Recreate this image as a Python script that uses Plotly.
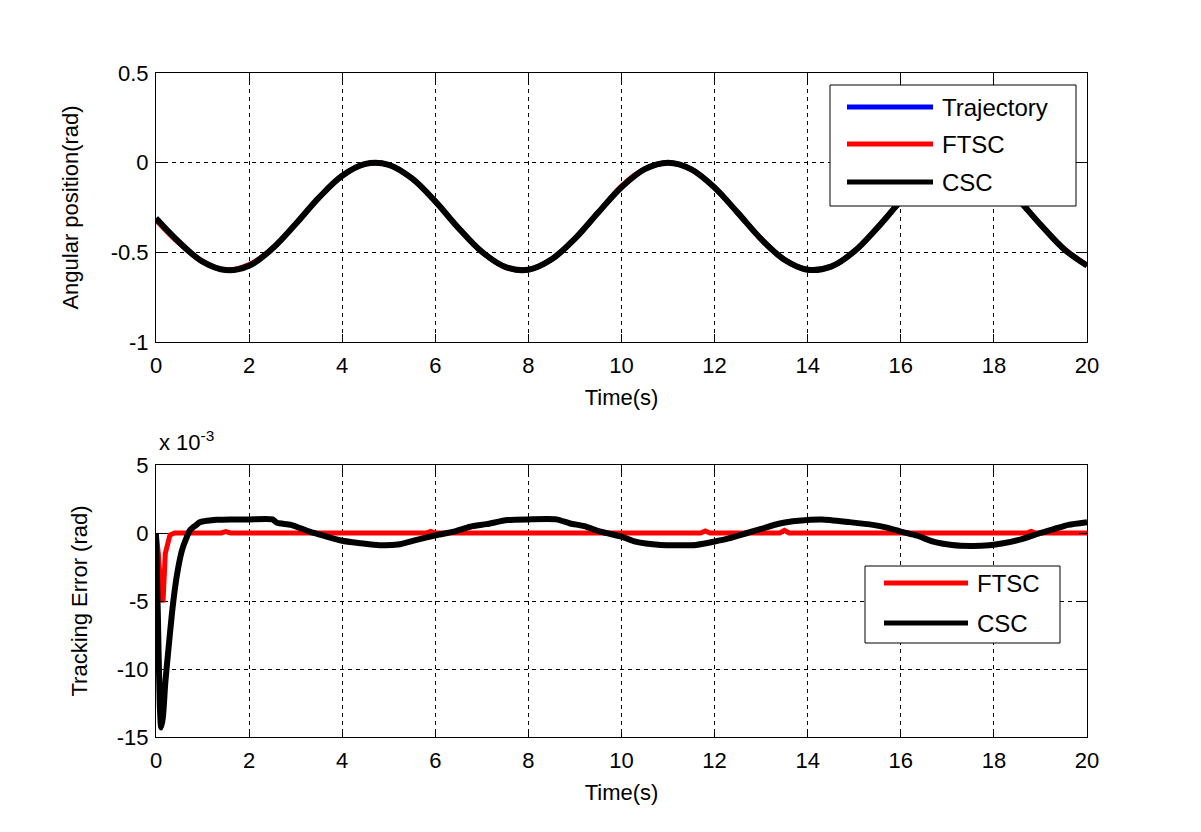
import plotly.graph_objects as go

# ---------------- data ----------------
# top panel: angular position (rad), sampled every 0.5 s
t_pos = [i * 0.5 for i in range(41)]
trajectory = [-0.31, -0.444, -0.552, -0.599, -0.573, -0.479, -0.342, -0.195, -0.073, -0.007,
              -0.012, -0.088, -0.216, -0.365, -0.497, -0.581, -0.597, -0.539, -0.424, -0.278,
              -0.137, -0.036, 0.000, -0.037, -0.139, -0.280, -0.426, -0.541, -0.597, -0.580,
              -0.495, -0.362, -0.214, -0.086, -0.012, -0.007, -0.075, -0.199, -0.345, -0.481,
              -0.574]
ftsc_pos = [-0.32, -0.450, -0.552, -0.599, -0.568, -0.479, -0.342, -0.195, -0.073, -0.007,
            -0.012, -0.088, -0.216, -0.365, -0.497, -0.581, -0.595, -0.539, -0.424, -0.278,
            -0.130, -0.036, 0.000, -0.037, -0.139, -0.280, -0.426, -0.541, -0.597, -0.580,
            -0.495, -0.362, -0.214, -0.086, -0.012, -0.007, -0.075, -0.199, -0.345, -0.476,
            -0.574]
csc_pos = [-0.31, -0.444, -0.552, -0.599, -0.575, -0.479, -0.342, -0.195, -0.073, -0.007,
           -0.012, -0.088, -0.216, -0.365, -0.497, -0.581, -0.597, -0.539, -0.424, -0.278,
           -0.137, -0.036, 0.000, -0.037, -0.139, -0.280, -0.426, -0.541, -0.597, -0.580,
           -0.495, -0.362, -0.214, -0.086, -0.012, -0.007, -0.075, -0.199, -0.345, -0.481,
           -0.574]

# bottom panel: tracking error (x 10^-3 rad)
t_csc = [0, 0.04, 0.08, 0.11, 0.15, 0.2, 0.26, 0.34, 0.41, 0.48, 0.56, 0.65, 0.73, 0.85, 0.95,
         1.1, 1.3, 1.6, 2.0, 2.5, 2.6, 2.9, 3.3, 3.6, 4.0, 4.4, 4.8, 5.2, 5.6, 6.04, 6.4, 6.75,
         7.1, 7.55, 8.0, 8.6, 8.9, 9.2, 9.55, 10.0, 10.3, 10.84, 11.2, 11.6, 11.98, 12.3, 12.7,
         13.0, 13.4, 13.8, 14.3, 14.9, 15.4, 15.7, 16.0, 16.35, 16.7, 17.1, 17.5, 17.9, 18.2,
         18.6, 19.0, 19.3, 19.6, 20.0]
err_csc = [0, -6, -12.5, -14.3, -13.5, -11, -8.8, -6.0, -4.0, -2.5, -1.25, -0.4, 0.2, 0.55, 0.8,
           0.9, 0.97, 1.0, 1.0, 1.0, 0.75, 0.6, 0.1, -0.2, -0.57, -0.75, -0.9, -0.85, -0.5, -0.15,
           0.1, 0.46, 0.65, 0.95, 1.0, 1.0, 0.7, 0.5, 0.1, -0.27, -0.64, -0.88, -0.9, -0.88, -0.64,
           -0.4, 0.0, 0.3, 0.7, 0.9, 1.0, 0.8, 0.6, 0.4, 0.1, -0.2, -0.64, -0.88, -0.95, -0.9,
           -0.75, -0.45, 0.0, 0.3, 0.6, 0.8]
t_ftsc = [0, 0.05, 0.1, 0.15, 0.2, 0.3, 0.4, 1.4, 1.5, 1.6, 5.8, 5.9, 6.0, 11.7, 11.8, 11.9,
          13.4, 13.5, 13.6, 18.7, 18.8, 18.9, 20]
err_ftsc = [0, -1.5, -4.0, -5.1, -1.5, -0.15, 0, 0, 0.1, 0, 0, 0.12, 0, 0, 0.15, 0,
            0, 0.2, 0, 0, 0.12, 0, 0]

x_ticks = [0, 2, 4, 6, 8, 10, 12, 14, 16, 18, 20]
x_ticktext = ["0", "2", "4", "6", "8", "10", "12", "14", "16", "18", "20"]
y1_ticks = [-1, -0.5, 0, 0.5]
y1_ticktext = ["-1", "-0.5", "0", "0.5"]
y2_ticks = [-15, -10, -5, 0, 5]
y2_ticktext = ["-15", "-10", "-5", "0", "5"]

# ---------------- figure ----------------
OFF = 8                      # page body margin
W, H = 1201 - OFF, 832 - OFF
FONT = "Arial, Liberation Sans, Helvetica, sans-serif"
FS = 22

def px(x):
    return (x - OFF) / W

def py(y):
    return 1 - (y - OFF) / H

fig = go.Figure()
fig.add_trace(go.Scatter(x=t_pos, y=trajectory, name="Trajectory", mode="lines",
                         line=dict(color="#0000ff", width=5, shape="spline"),
                         xaxis="x", yaxis="y", showlegend=False))
fig.add_trace(go.Scatter(x=t_pos, y=ftsc_pos, name="FTSC", mode="lines",
                         line=dict(color="#ff0000", width=5, shape="spline"),
                         xaxis="x", yaxis="y", showlegend=False))
fig.add_trace(go.Scatter(x=t_pos, y=csc_pos, name="CSC", mode="lines",
                         line=dict(color="#000000", width=6, shape="spline"),
                         xaxis="x", yaxis="y", showlegend=False))
fig.add_trace(go.Scatter(x=t_ftsc, y=err_ftsc, name="FTSC", mode="lines",
                         line=dict(color="#ff0000", width=5),
                         xaxis="x2", yaxis="y2", showlegend=False))
fig.add_trace(go.Scatter(x=t_csc, y=err_csc, name="CSC", mode="lines",
                         line=dict(color="#000000", width=6, shape="spline", smoothing=0.6),
                         xaxis="x2", yaxis="y2", showlegend=False))

axis_common = dict(
    showline=True, linecolor="black", linewidth=1, mirror="ticks",
    ticks="inside", ticklen=8, tickcolor="black", tickwidth=1,
    showgrid=True, gridcolor="black", gridwidth=1, griddash="4px,4px",
    zeroline=False, automargin=False,
    tickfont=dict(family=FONT, size=FS, color="black"),
)

x_dom = [px(156), px(1087)]
fig.update_layout(
    width=W, height=H,
    margin=dict(l=0, r=0, t=0, b=0),
    paper_bgcolor="white", plot_bgcolor="white",
    font=dict(family=FONT, size=FS, color="black"),
    xaxis=dict(domain=x_dom, anchor="y", range=[0, 20], tickvals=x_ticks, ticktext=x_ticktext,
               ticklabelstandoff=4,
               title=dict(text="Time(s)", standoff=12, font=dict(family=FONT, size=FS)),
               **axis_common),
    yaxis=dict(domain=[py(342), py(73)], anchor="x", range=[-1, 0.5], tickvals=y1_ticks,
               ticktext=y1_ticktext, ticklabelstandoff=2,
               title=dict(text="Angular position(rad)", standoff=25, font=dict(family=FONT, size=FS)),
               **axis_common),
    xaxis2=dict(domain=x_dom, anchor="y2", range=[0, 20], tickvals=x_ticks, ticktext=x_ticktext,
                ticklabelstandoff=4,
                title=dict(text="Time(s)", standoff=12, font=dict(family=FONT, size=FS)),
                **axis_common),
    yaxis2=dict(domain=[py(737), py(465)], anchor="x2", range=[-15, 5], tickvals=y2_ticks,
                ticktext=y2_ticktext, ticklabelstandoff=2,
                title=dict(text="Tracking Error (rad)", standoff=23, font=dict(family=FONT, size=FS)),
                **axis_common),
)

# exponent label of the bottom y axis
fig.add_annotation(text="x 10<sup>-3</sup>", xref="paper", yref="paper",
                   x=px(157), y=py(457), xanchor="left", yanchor="bottom",
                   showarrow=False, font=dict(family=FONT, size=FS, color="black"))

# legends (MATLAB style: long line samples inside a boxed area)
def legend_box(x0, y0, x1, y1, entries, line_x0, line_x1, text_x):
    fig.add_shape(type="rect", xref="paper", yref="paper",
                  x0=px(x0), x1=px(x1), y0=py(y1), y1=py(y0),
                  line=dict(color="black", width=1), fillcolor="white", layer="above")
    for name, color, yy in entries:
        fig.add_shape(type="line", xref="paper", yref="paper",
                      x0=px(line_x0), x1=px(line_x1), y0=py(yy), y1=py(yy),
                      line=dict(color=color, width=5), layer="above")
        fig.add_annotation(text=name, xref="paper", yref="paper", x=px(text_x), y=py(yy),
                           xanchor="left", yanchor="middle", showarrow=False,
                           font=dict(family=FONT, size=24, color="black"))

legend_box(830, 85, 1076, 206,
           [("Trajectory", "#0000ff", 107), ("FTSC", "#ff0000", 144), ("CSC", "#000000", 182)],
           847, 933, 940)
legend_box(865, 566, 1060, 643,
           [("FTSC", "#ff0000", 583), ("CSC", "#000000", 623)],
           884, 968, 975)

fig.write_html("out.html")
